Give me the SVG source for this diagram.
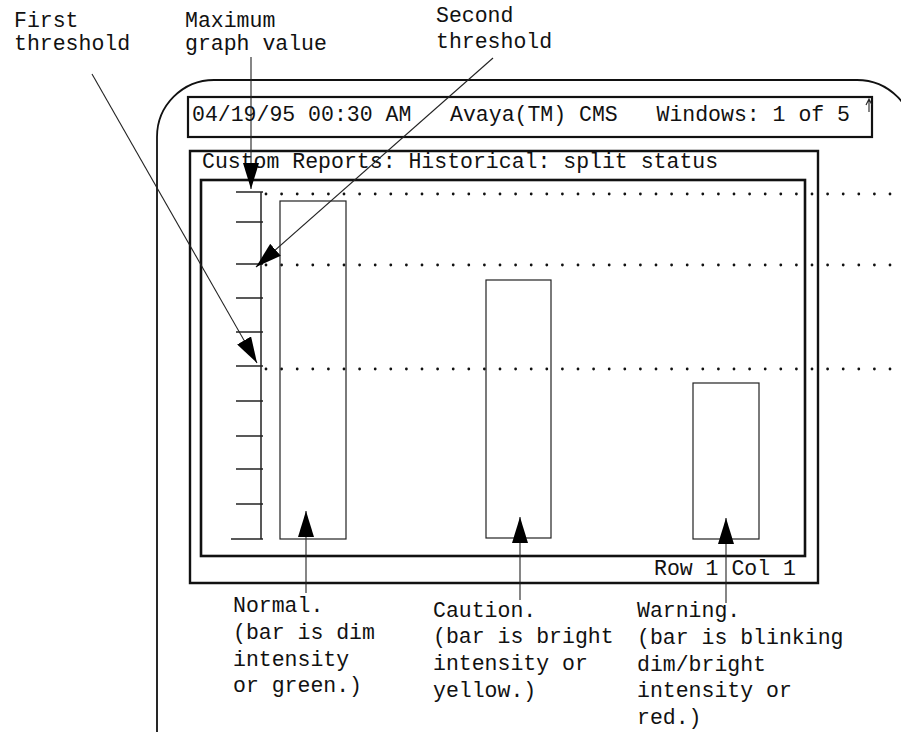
<svg xmlns="http://www.w3.org/2000/svg" width="901" height="732" viewBox="0 0 901 732">
<defs>
<marker id="ah" markerUnits="userSpaceOnUse" markerWidth="28" markerHeight="16" refX="26" refY="8" orient="auto">
<path d="M0,0 L26,8 L0,16 z" fill="#000"/>
</marker>
<style>
text{font-family:"Liberation Mono","DejaVu Sans Mono",monospace;font-size:21.5px;fill:#111}
.frame{fill:none;stroke:#111}
.bar{fill:none;stroke:#222;stroke-width:1.2}
.tick{stroke:#222;stroke-width:1.5}
.dots{stroke:#111;stroke-width:2.8;stroke-dasharray:0 15.6;stroke-linecap:round}
.lead{stroke:#222;stroke-width:1.1;fill:none}
.arr{marker-end:url(#ah)}
</style>
</defs>
<rect width="901" height="732" fill="#fff"/>

<g id="screen">
<path class="frame" stroke-width="1.8" d="M157,732 L157,137 A57,57 0 0 1 214,80 L857,80 A57,57 0 0 1 914,137"/>
</g>

<g id="header">
<rect class="frame" stroke-width="2.2" x="188" y="97" width="684" height="40"/>
<text x="192" y="121" xml:space="preserve">04/19/95 00:30 AM   Avaya(TM) CMS   Windows: 1 of 5</text>
<path class="lead" stroke-width="1.3" d="M869,112 L869,100 M866,105 L869,99 L872,105"/>
</g>

<g id="report">
<path class="frame" stroke-width="2.4" d="M190,583 L190,151 L818,151 L818,583 Z"/>
<text x="202" y="168">Custom Reports: Historical: split status</text>
<rect class="frame" stroke-width="2.6" x="201" y="180" width="604" height="376"/>
<text x="654" y="575">Row 1 Col 1</text>
</g>

<g id="axis">
<line class="tick" x1="261" y1="192" x2="261" y2="539"/>
<line class="tick" x1="236" y1="192" x2="263" y2="192"/>
<line class="tick" x1="236" y1="222" x2="263" y2="222"/>
<line class="tick" x1="236" y1="264" x2="263" y2="264"/>
<line class="tick" x1="236" y1="298" x2="263" y2="298"/>
<line class="tick" x1="236" y1="332" x2="263" y2="332"/>
<line class="tick" x1="236" y1="366" x2="263" y2="366"/>
<line class="tick" x1="236" y1="401" x2="263" y2="401"/>
<line class="tick" x1="236" y1="436" x2="263" y2="436"/>
<line class="tick" x1="236" y1="469" x2="263" y2="469"/>
<line class="tick" x1="236" y1="504" x2="263" y2="504"/>
<line class="tick" x1="231" y1="539" x2="263" y2="539"/>
</g>

<g id="thresholds">
<line class="dots" x1="266" y1="194" x2="901" y2="194"/>
<line class="dots" x1="266" y1="265" x2="901" y2="265"/>
<line class="dots" x1="266" y1="369" x2="901" y2="369"/>
</g>

<g id="bar-normal"><rect class="bar" x="280" y="201" width="66" height="338"/></g>
<g id="bar-caution"><rect class="bar" x="486" y="280" width="65" height="258"/></g>
<g id="bar-warning"><rect class="bar" x="693" y="383" width="66" height="156"/></g>

<g id="connectors">
<line class="lead arr" x1="251" y1="57" x2="251" y2="189"/>
<line class="lead arr" x1="493" y1="58" x2="256" y2="267"/>
<line class="lead arr" x1="92" y1="74" x2="257" y2="363"/>
<line class="lead arr" x1="306" y1="593" x2="306" y2="511"/>
<line class="lead arr" x1="520" y1="600" x2="520" y2="517"/>
<line class="lead arr" x1="726" y1="603" x2="726" y2="518"/>
</g>

<g id="label-first"><text x="14" y="27">First</text><text x="14" y="50">threshold</text></g>
<g id="label-max"><text x="185" y="27">Maximum</text><text x="185" y="50">graph value</text></g>
<g id="label-second"><text x="436" y="22">Second</text><text x="436" y="48">threshold</text></g>

<g id="label-normal">
<text x="233" y="612">Normal.</text>
<text x="233" y="639">(bar is dim</text>
<text x="233" y="666">intensity</text>
<text x="233" y="692">or green.)</text>
</g>
<g id="label-caution">
<text x="433" y="617">Caution.</text>
<text x="433" y="643">(bar is bright</text>
<text x="433" y="670">intensity or</text>
<text x="433" y="697">yellow.)</text>
</g>
<g id="label-warning">
<text x="637" y="617">Warning.</text>
<text x="637" y="644">(bar is blinking</text>
<text x="637" y="671">dim/bright</text>
<text x="637" y="697">intensity or</text>
<text x="637" y="724">red.)</text>
</g>
</svg>
